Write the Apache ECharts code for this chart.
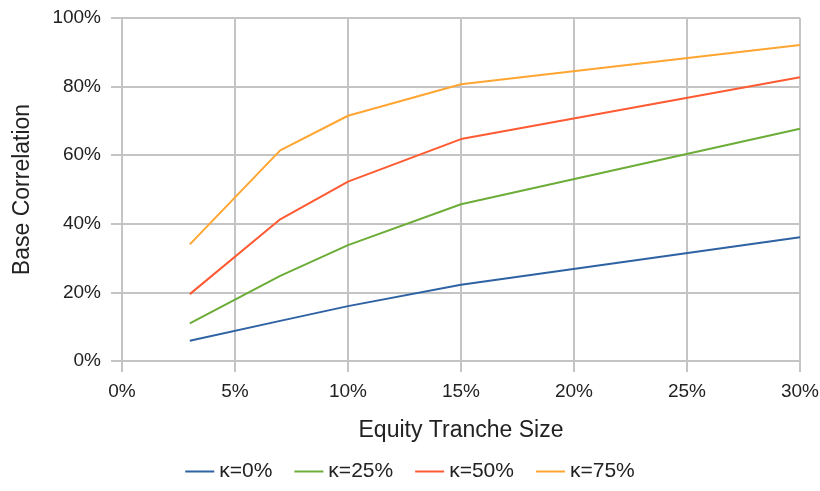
<!DOCTYPE html>
<html>
<head>
<meta charset="utf-8">
<script src="https://cdn.jsdelivr.net/npm/echarts@6/dist/echarts.min.js"></script>
<style>html,body{margin:0;padding:0;background:#fff;}#c{width:820px;height:491px;}</style>
</head>
<body>
<div id="c"></div>
<script>
const tranche = [3, 7, 10, 15, 30];
const k0 = [5.9, 11.7, 16.0, 22.2, 36.1];
const k25 = [11.0, 24.8, 33.8, 45.7, 67.7];
const k50 = [19.5, 41.3, 52.3, 64.7, 82.7];
const k75 = [34.0, 61.4, 71.5, 80.7, 92.1];
const seriesNames = ['κ=0%', 'κ=25%', 'κ=50%', 'κ=75%'];
const colors = ['#2e62a3', '#6cad38', '#ff5a32', '#ffa531'];
const allSeries = [k0, k25, k50, k75];

const font = 'Liberation Sans, Arial, sans-serif';
const chart = echarts.init(document.getElementById('c'));
chart.setOption({
  animation: false,
  color: colors,
  grid: {left: 122, right: 20, top: 18, bottom: 130, containLabel: false, outerBoundsMode: 'none'},
  legend: {
    top: 456, left: 'center',
    itemWidth: 29, itemHeight: 2, itemGap: 22,
    icon: 'rect',
    textStyle: {fontFamily: font, fontSize: 21, color: '#222'},
    data: seriesNames
  },
  xAxis: {
    type: 'value', min: 0, max: 30, interval: 5,
    name: 'Equity Tranche Size', nameLocation: 'middle', nameGap: 58,
    nameTextStyle: {fontFamily: font, fontSize: 23, color: '#222'},
    axisLabel: {formatter: '{value}%', fontFamily: font, fontSize: 19, color: '#222', margin: 21},
    axisLine: {show: true, lineStyle: {color: '#c4c4c4', width: 2}},
    axisTick: {show: true, length: 11, inside: false, lineStyle: {color: '#c4c4c4', width: 2}},
    splitLine: {show: true, lineStyle: {color: '#c4c4c4', width: 2}}
  },
  yAxis: {
    type: 'value', min: 0, max: 100, interval: 20,
    name: 'Base Correlation', nameLocation: 'middle', nameGap: 88, nameRotate: 90,
    nameTextStyle: {fontFamily: font, fontSize: 23, color: '#222'},
    axisLabel: {formatter: '{value}%', fontFamily: font, fontSize: 19, color: '#222', margin: 21},
    axisLine: {show: true, lineStyle: {color: '#c4c4c4', width: 2}},
    axisTick: {show: true, length: 11, lineStyle: {color: '#c4c4c4', width: 2}},
    splitLine: {show: true, lineStyle: {color: '#c4c4c4', width: 2}}
  },
  series: allSeries.map((vals, i) => ({
    name: seriesNames[i],
    type: 'line',
    data: tranche.map((x, j) => [x, vals[j]]),
    showSymbol: false,
    symbol: 'none',
    lineStyle: {width: 2, color: colors[i]},
    itemStyle: {color: colors[i]}
  }))
});
</script>
</body>
</html>
